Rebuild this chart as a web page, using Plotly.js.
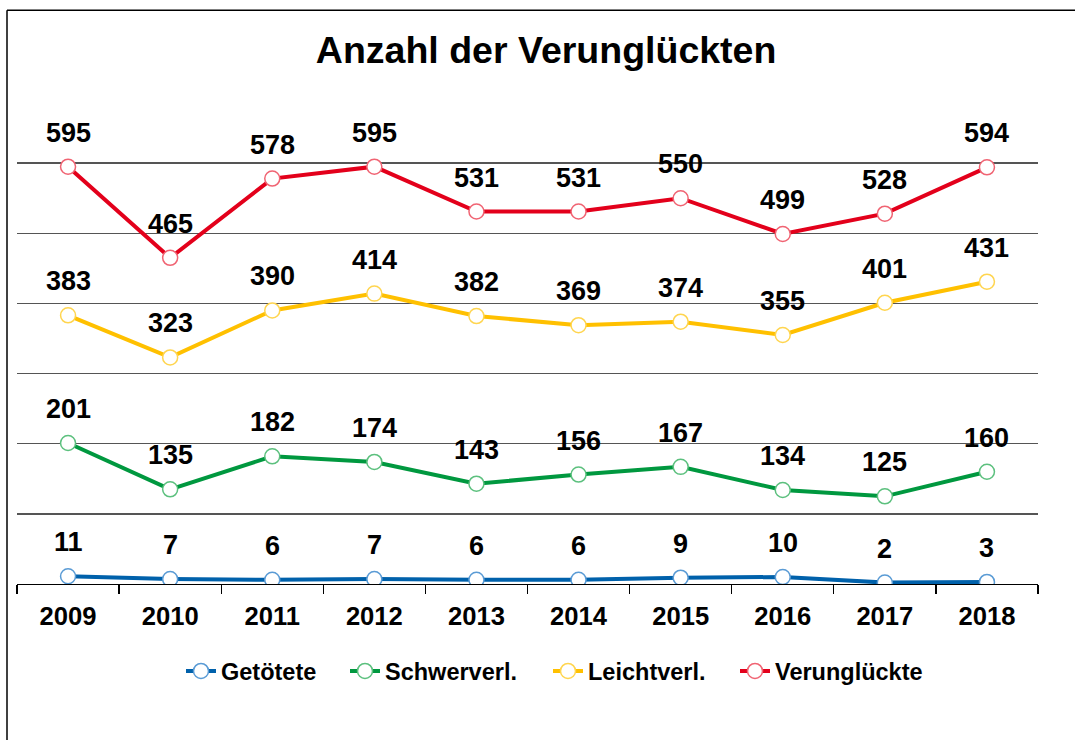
<!DOCTYPE html>
<html>
<head>
<meta charset="utf-8">
<script src="https://cdn.plot.ly/plotly-3.0.1.min.js"></script>
<style>
html,body{margin:0;padding:0;background:#fff;}
#chart{width:1075px;height:740px;}
</style>
</head>
<body>
<div id="chart"></div>
<script>
const years = ['2009','2010','2011','2012','2013','2014','2015','2016','2017','2018'];
const getoetete = [11,7,6,7,6,6,9,10,2,3];
const schwerverl = [201,135,182,174,143,156,167,134,125,160];
const leichtverl = [383,323,390,414,382,369,374,355,401,431];
const verunglueckte = [595,465,578,595,531,531,550,499,528,594];

const seriesNames = ['Getötete','Schwerverl.','Leichtverl.','Verunglückte'];
const seriesValues = [getoetete, schwerverl, leichtverl, verunglueckte];
const lineColors = ['#0061AB','#00983F','#FFC000','#E3001B'];
const markerLineColors = ['#5A9BD5','#5CC07E','#FFD54F','#F06473'];
const legendIds = ['legend','legend2','legend3','legend4'];
const legendLeft = [181, 345, 548, 735];

const FONT = 'Arial, "Liberation Sans", sans-serif';

const traces = seriesNames.map((name, i) => ({
  type: 'scatter',
  mode: 'lines+markers',
  name: name,
  legend: legendIds[i],
  x: years,
  y: seriesValues[i],
  line: {color: lineColors[i], width: 4},
  marker: {symbol: 'circle', size: 15, color: '#ffffff', line: {color: markerLineColors[i], width: 1.5}},
  hoverinfo: 'x+y+name'
}));

const annotations = [];
seriesValues.forEach(vals => {
  vals.forEach((v, j) => {
    annotations.push({
      x: j, y: v, xref: 'x', yref: 'y',
      text: String(v), showarrow: false,
      yanchor: 'middle', xanchor: 'center', yshift: 34,
      font: {family: FONT, size: 27, color: '#000', weight: 'bold'}
    });
  });
});

const layout = {
  width: 1075, height: 740,
  paper_bgcolor: '#ffffff', plot_bgcolor: '#ffffff',
  margin: {l: 17, r: 37, t: 93, b: 156, pad: 0},
  font: {family: FONT, color: '#000'},
  title: {
    text: 'Anzahl der Verunglückten',
    font: {family: FONT, size: 37.5, color: '#000', weight: 'bold'},
    x: 0.508, xanchor: 'center', xref: 'container',
    y: 0.932, yanchor: 'middle', yref: 'container'
  },
  xaxis: {
    type: 'category',
    categoryorder: 'array', categoryarray: years,
    range: [-0.5, years.length - 0.5], autorange: false,
    showline: true, linecolor: '#000', linewidth: 1.3,
    ticks: 'outside', tickson: 'boundaries', ticklen: 9, tickcolor: '#000', tickwidth: 1.3,
    showgrid: false, zeroline: false,
    tickangle: 0,
    tickfont: {family: FONT, size: 25.6, color: '#000', weight: 'bold'},
    ticklabelstandoff: 9,
    fixedrange: true
  },
  yaxis: {
    range: [0, 700], autorange: false, dtick: 100, tick0: 0,
    showticklabels: false, ticks: '',
    showgrid: true, gridcolor: '#555555', gridwidth: 1.3,
    zeroline: false, showline: false,
    fixedrange: true
  },
  showlegend: true,
  annotations: annotations,
  shapes: [
    {type: 'line', xref: 'paper', yref: 'paper',
     x0: -10/1021, x1: 1.1, y0: 1 + 82.7/491.3, y1: 1 + 82.7/491.3,
     line: {color: '#000', width: 1.5}, layer: 'below'},
    {type: 'line', xref: 'paper', yref: 'paper',
     x0: -10/1021, x1: -10/1021, y0: -0.4, y1: 1 + 82.7/491.3,
     line: {color: '#000', width: 1.5}, layer: 'below'}
  ]
};

legendIds.forEach((id, i) => {
  layout[id] = {
    orientation: 'h',
    xref: 'container', yref: 'container',
    x: legendLeft[i] / 1075, xanchor: 'left',
    y: 0.093, yanchor: 'middle',
    font: {family: FONT, size: 23.5, color: '#000', weight: 'bold'},
    bgcolor: 'rgba(0,0,0,0)'
  };
});

Plotly.newPlot('chart', traces, layout, {displayModeBar: false, staticPlot: true});
</script>
</body>
</html>
